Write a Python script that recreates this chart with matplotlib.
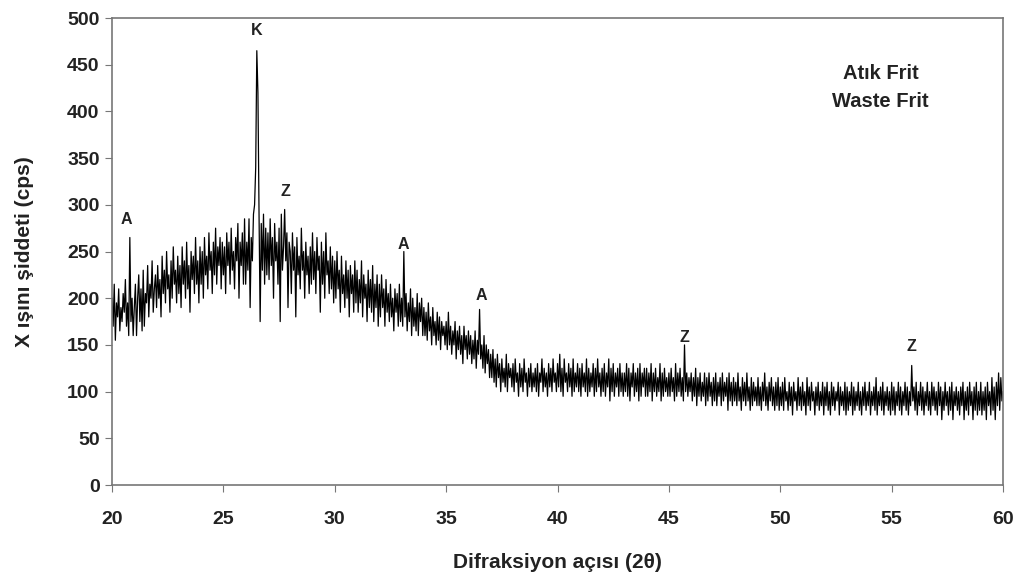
import numpy as np
import matplotlib
matplotlib.use("Agg")
from matplotlib import pyplot as plt

plt.rcParams['font.family'] = ['Liberation Sans', 'DejaVu Sans']

# XRD intensity, 20.00 .. 60.00 deg in 0.05 deg steps
counts = [
    200, 170, 215, 155, 195, 180, 210, 165, 190, 175, 205, 185, 220, 170, 195, 160, 265, 175, 200, 160,  # 20
    190, 215, 160, 200, 225, 175, 210, 165, 230, 170, 205, 195, 235, 180, 215, 200, 240, 185, 210, 225,  # 21
    190, 235, 200, 220, 180, 245, 205, 230, 195, 250, 210, 225, 185, 240, 200, 255, 215, 230, 195, 245,  # 22
    205, 235, 190, 255, 215, 240, 200, 260, 210, 235, 185, 250, 220, 245, 205, 265, 215, 240, 195, 255,  # 23
    215, 250, 200, 265, 225, 245, 210, 270, 230, 250, 205, 260, 225, 275, 215, 255, 235, 265, 210, 260,  # 24
    225, 255, 205, 270, 235, 260, 215, 275, 230, 250, 210, 265, 240, 280, 200, 260, 235, 270, 215, 285,  # 25
    215, 260, 230, 285, 190, 265, 240, 290, 300, 340, 465, 420, 290, 175, 280, 230, 290, 215, 275, 225,  # 26
    270, 220, 285, 235, 265, 200, 280, 240, 260, 215, 275, 175, 290, 230, 255, 295, 240, 270, 190, 260,  # 27
    250, 205, 270, 230, 255, 180, 265, 225, 245, 210, 275, 230, 250, 200, 260, 225, 245, 205, 255, 215,  # 28
    270, 220, 250, 205, 265, 230, 245, 185, 260, 215, 250, 200, 270, 225, 240, 205, 255, 210, 245, 195,  # 29
    240, 200, 250, 210, 230, 185, 245, 205, 225, 190, 240, 200, 230, 180, 235, 205, 225, 185, 240, 195,  # 30
    230, 185, 220, 195, 240, 180, 225, 200, 215, 175, 230, 190, 220, 185, 235, 175, 215, 190, 225, 170,  # 31
    215, 180, 225, 190, 210, 170, 220, 185, 205, 175, 215, 180, 200, 165, 210, 185, 205, 170, 215, 175,  # 32
    200, 170, 250, 180, 205, 165, 195, 175, 210, 160, 200, 170, 190, 165, 205, 160, 195, 175, 200, 160,  # 33
    190, 160, 185, 155, 195, 165, 180, 150, 190, 160, 175, 150, 185, 155, 180, 145, 175, 160, 170, 150,  # 34
    175, 145, 185, 150, 170, 140, 165, 150, 175, 135, 165, 145, 170, 140, 160, 130, 170, 145, 160, 135,  # 35
    165, 140, 160, 130, 155, 135, 165, 125, 155, 140, 188, 135, 150, 125, 160, 120, 150, 130, 145, 115,  # 36
    140, 115, 145, 110, 135, 105, 140, 115, 130, 100, 135, 110, 125, 105, 140, 100, 130, 115, 125, 105,  # 37
    130, 100, 135, 110, 120, 95, 130, 105, 125, 100, 135, 110, 120, 95, 125, 105, 130, 100, 120, 105,    # 38
    125, 100, 130, 95, 120, 110, 135, 100, 125, 105, 120, 95, 130, 105, 125, 100, 135, 110, 120, 100,    # 39
    130, 105, 140, 100, 125, 95, 135, 110, 120, 100, 130, 105, 125, 95, 135, 100, 120, 105, 130, 100,    # 40
    125, 95, 130, 105, 120, 100, 135, 95, 125, 100, 120, 105, 130, 95, 125, 100, 135, 105, 120, 95,      # 41
    125, 100, 130, 95, 120, 105, 135, 90, 125, 100, 130, 95, 120, 105, 125, 95, 130, 100, 120, 95,       # 42
    120, 100, 130, 95, 125, 90, 120, 105, 130, 95, 120, 100, 125, 90, 130, 95, 120, 105, 125, 95,        # 43
    125, 95, 120, 100, 130, 90, 120, 100, 125, 95, 115, 100, 130, 90, 120, 95, 125, 100, 115, 95,        # 44
    120, 95, 125, 100, 115, 90, 130, 95, 120, 100, 125, 95, 115, 90, 150, 100, 120, 95, 115, 100,        # 45
    120, 90, 115, 95, 125, 85, 115, 95, 120, 90, 110, 95, 120, 85, 115, 90, 120, 95, 110, 85,            # 46
    115, 90, 120, 85, 110, 95, 115, 85, 120, 90, 110, 95, 115, 80, 120, 90, 110, 85, 115, 90,            # 47
    110, 85, 120, 90, 105, 80, 115, 90, 110, 85, 120, 90, 105, 80, 115, 85, 110, 90, 105, 85,            # 48
    115, 85, 105, 80, 110, 90, 120, 85, 105, 80, 110, 90, 115, 85, 105, 80, 110, 85, 115, 80,            # 49
    105, 85, 110, 80, 115, 90, 100, 80, 110, 85, 105, 75, 110, 90, 100, 80, 115, 85, 105, 80,            # 50
    110, 85, 100, 75, 115, 85, 105, 80, 110, 90, 100, 75, 105, 85, 110, 80, 100, 85, 110, 75,            # 51
    105, 85, 110, 80, 100, 75, 110, 85, 105, 80, 100, 90, 110, 75, 105, 85, 100, 80, 110, 75,            # 52
    105, 80, 100, 85, 110, 75, 105, 80, 100, 85, 110, 80, 100, 75, 105, 85, 110, 80, 100, 85,            # 53
    110, 75, 100, 85, 105, 80, 115, 75, 100, 85, 105, 80, 110, 75, 100, 85, 105, 80, 100, 75,            # 54
    110, 80, 105, 75, 100, 85, 110, 80, 105, 75, 100, 85, 110, 80, 105, 75, 100, 85, 128, 90,            # 55
    105, 80, 110, 75, 100, 85, 110, 80, 105, 75, 100, 85, 110, 80, 100, 75, 110, 85, 105, 80,            # 56
    100, 75, 110, 85, 105, 70, 100, 80, 110, 85, 100, 75, 105, 80, 110, 70, 100, 85, 105, 80,            # 57
    100, 75, 105, 85, 110, 70, 100, 80, 105, 75, 110, 85, 100, 70, 105, 80, 110, 75, 100, 80,            # 58
    110, 75, 100, 80, 105, 70, 110, 85, 100, 75, 115, 80, 105, 70, 110, 85, 120, 80, 115, 90,            # 59
    100,                                                                                                 # 60
]
angles = np.linspace(20, 60, len(counts))

# phase labels over the peaks
peak_names = ['A', 'K', 'Z', 'A', 'A', 'Z', 'Z']
peak_x = [20.65, 26.5, 27.8, 33.1, 36.6, 45.7, 55.9]
peak_y = [284, 487, 314, 257, 203, 158, 148]

x_ticks = [20, 25, 30, 35, 40, 45, 50, 55, 60]
y_ticks = [0, 50, 100, 150, 200, 250, 300, 350, 400, 450, 500]

fig = plt.figure(figsize=(10.23, 5.79), dpi=100)
ax = fig.add_axes([0.1095, 0.1623, 0.871, 0.8066])

ax.plot(angles, counts, color='black', linewidth=0.9)

for name, px, py in zip(peak_names, peak_x, peak_y):
    ax.text(px, py, name, ha='center', va='center', fontsize=11.5, fontweight='bold', color='#222222')

ax.text(54.5, 441, 'Atık Frit', ha='center', va='center', fontsize=14.5, fontweight='bold', color='#222222')
ax.text(54.5, 411, 'Waste Frit', ha='center', va='center', fontsize=14.5, fontweight='bold', color='#222222')

ax.set_xlim(20, 60)
ax.set_ylim(0, 500)
ax.set_xticks(x_ticks)
ax.set_yticks(y_ticks)

for s in ax.spines.values():
    s.set_color('#777777')
    s.set_linewidth(1.2)
ax.tick_params(direction='out', length=5, color='#777777', labelsize=14)
ax.tick_params(axis='x', pad=14)
ax.tick_params(axis='y', pad=4)
for lab in ax.get_xticklabels() + ax.get_yticklabels():
    lab.set_fontweight('bold')
    lab.set_color('#222222')

ax.set_xlabel('Difraksiyon açısı (2θ)', fontsize=15, fontweight='bold', labelpad=18, color='#222222')
ax.set_ylabel('X ışını şiddeti (cps)', fontsize=15, fontweight='bold', labelpad=24, color='#222222')

fig.savefig('out.png', dpi=100)
